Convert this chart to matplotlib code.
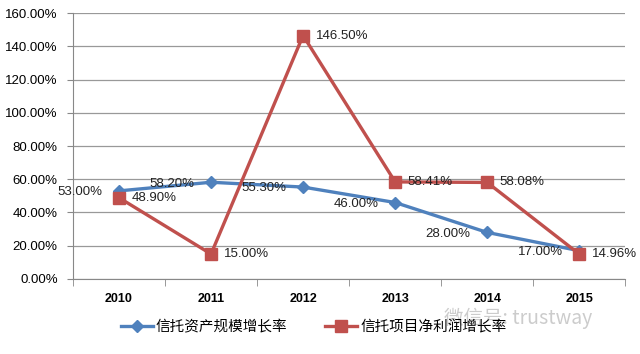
import matplotlib.pyplot as plt
import numpy as np

plt.rcParams['font.family'] = ['Noto Sans CJK SC', 'DejaVu Sans']

years = ['2010', '2011', '2012', '2013', '2014', '2015']
asset_growth = [53.00, 58.20, 55.30, 46.00, 28.00, 17.00]
profit_growth = [48.90, 15.00, 146.50, 58.41, 58.08, 14.96]
asset_name = '信托资产规模增长率'
profit_name = '信托项目净利润增长率'

blue = '#4F81BD'
red = '#C0504D'

fig = plt.figure(figsize=(6.4, 3.54), dpi=100)
ax = fig.add_axes([0.114, 0.212, 0.863, 0.751])

x = np.arange(len(years))
ax.plot(x, asset_growth, color=blue, lw=2.4, marker='D', ms=6, label=asset_name, zorder=3)
ax.plot(x, profit_growth, color=red, lw=2.4, marker='s', ms=9, label=profit_name, zorder=3)

lab_font = dict(fontsize=9.5, family=['Liberation Sans', 'DejaVu Sans'], color='#222222')
for xi, v in zip(x, asset_growth):
    ax.annotate(f'{v:.2f}%', (xi, v), xytext=(-12, -1), textcoords='offset points',
                ha='right', va='center', **lab_font)
for xi, v in zip(x, profit_growth):
    ax.annotate(f'{v:.2f}%', (xi, v), xytext=(9, 0), textcoords='offset points',
                ha='left', va='center', **lab_font)

ax.set_xlim(-0.5, 5.5)
ax.set_ylim(0, 160)
ax.set_yticks(np.arange(0, 161, 20))
ax.set_yticklabels([f'{t:.2f}%' for t in range(0, 161, 20)],
                   fontsize=9.5, family=['Liberation Sans', 'DejaVu Sans'])
ax.set_xticks(x)
ax.set_xticklabels(years, fontsize=9, fontweight='bold', family=['Liberation Sans', 'DejaVu Sans'])
ax.tick_params(axis='x', length=0, pad=10)
ax.set_xticks(np.arange(-0.5, 5.6, 1), minor=True)
ax.tick_params(axis='x', which='minor', length=5, color='#888888')
ax.tick_params(axis='y', length=4, color='#888888', pad=7)

ax.grid(axis='y', color='#999999', lw=0.9)
ax.set_axisbelow(True)
for s in ['top', 'right']:
    ax.spines[s].set_visible(False)
ax.spines['left'].set_color('#888888')
ax.spines['bottom'].set_color('#888888')

fig.legend(loc='center', bbox_to_anchor=(0.49, 0.075), ncol=2, frameon=False,
           fontsize=10.5, handlelength=2.2, handletextpad=0.2, columnspacing=2.6)

# watermark from the source image
fig.text(0.925, 0.10, '微信号: trustway', ha='right', va='center', fontsize=14,
         color='#aaaaaa', alpha=0.6)

plt.savefig('out.png', dpi=100)
